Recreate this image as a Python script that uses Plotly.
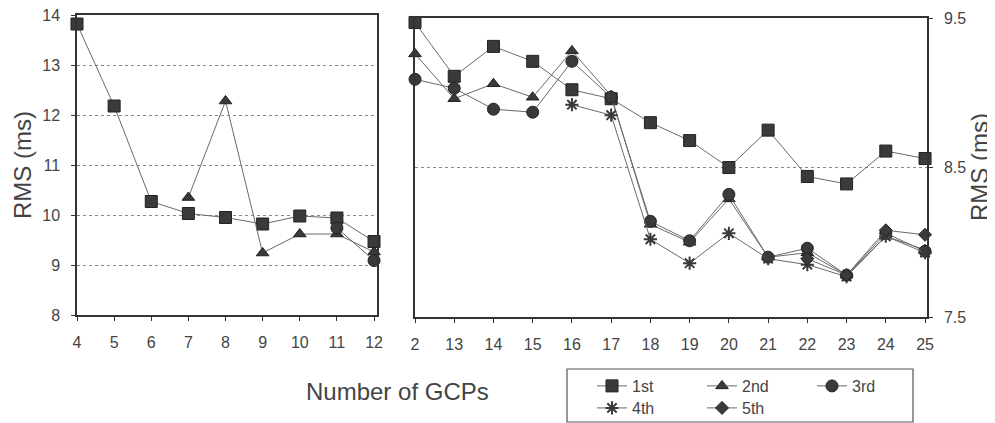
import plotly.graph_objects as go

# ---- data ----
gcps = list(range(4, 26))
first  = [13.82, 12.18, 10.27, 10.03, 9.95, 9.82, 9.98, 9.94, 9.47, 9.11, 9.31,
          9.21, 9.02, 8.96, 8.80, 8.68, 8.50, 8.75, 8.44, 8.39, 8.61, 8.56]
second = [None, None, None, 10.35, 12.28, 9.24, 9.62, 9.62, 9.26, 8.96, 9.06,
          8.97, 9.28, 8.98, 8.12, 8.00, 8.29, 7.90, 7.93, 7.78, 8.04, 7.95]
third  = [None, None, None, None, None, None, None, 9.74, 9.09, 9.03, 8.89,
          8.87, 9.21, 8.97, 8.14, 8.01, 8.32, 7.90, 7.96, 7.78, 8.06, 7.94]
fourth = [None] * 12 + [8.92, 8.85, 8.02, 7.86, 8.06, 7.89, 7.85, 7.77, 8.04, 7.93]
fifth  = [None] * 18 + [7.89, 7.78, 8.08, 8.05]

series_names = ["1st", "2nd", "3rd", "4th", "5th"]
series_vals = [first, second, third, fourth, fifth]
symbols = ["square", "triangle-up", "circle", "asterisk-open", "diamond"]
sizes = [12, 11, 12, 11, 10]
legend_of = ["legend", "legend", "legend", "legend2", "legend2"]

left_tickvals = list(range(4, 13))
left_ticktext = [str(v) for v in left_tickvals]
right_tickvals = list(range(12, 26))
right_ticktext = ["2"] + [str(v) for v in range(13, 26)]

left_yticks = [8, 9, 10, 11, 12, 13, 14]
right_yticks = [7.5, 8.5, 9.5]

# page is offset by the default 8px body margin
W, H, OFF = 987, 415, 8
def fx(px):
    return (px - OFF) / W
def fy(py):
    return (H - (py - OFF)) / H

MARK = "#3a3a3a"
LINE = "#6a6a6a"
TXT = "#444444"
FONT = "Liberation Sans, Arial"

fig = go.Figure()

for i, (name, vals) in enumerate(zip(series_names, series_vals)):
    sym = symbols[i]
    is_open = sym.endswith("open")
    mk = dict(symbol=sym, size=sizes[i], color=MARK,
              line=dict(color="#222222" if not is_open else MARK, width=2 if is_open else 1))
    xl = [x for x, v in zip(gcps, vals) if x <= 12 and v is not None]
    yl = [v for x, v in zip(gcps, vals) if x <= 12 and v is not None]
    fig.add_trace(go.Scatter(x=xl, y=yl, mode="lines+markers", name=name,
                             line=dict(color=LINE, width=1), marker=mk,
                             xaxis="x", yaxis="y", showlegend=False, cliponaxis=False))
    xr = [x for x, v in zip(gcps, vals) if x >= 12 and v is not None]
    yr = [v for x, v in zip(gcps, vals) if x >= 12 and v is not None]
    fig.add_trace(go.Scatter(x=xr, y=yr, mode="lines+markers", name=name,
                             line=dict(color=LINE, width=1), marker=mk,
                             xaxis="x2", yaxis="y2", showlegend=True, cliponaxis=False,
                             legend=legend_of[i]))

axis_common = dict(showline=True, linecolor="#333333", linewidth=1.5, mirror=True,
                   ticks="outside", ticklen=4, tickcolor="#333333",
                   tickfont=dict(family=FONT, size=16, color=TXT),
                   ticklabeloverflow="allow",
                   zeroline=False, automargin=False)

leg_common = dict(orientation="h", xanchor="left", yanchor="top", borderwidth=0,
                  bgcolor="rgba(0,0,0,0)", font=dict(family=FONT, size=16, color=TXT),
                  entrywidth=65, entrywidthmode="pixels", tracegroupgap=0)

fig.update_layout(
    width=W, height=H,
    template="none",
    paper_bgcolor="white", plot_bgcolor="white",
    margin=dict(l=0, r=0, t=0, b=0, autoexpand=False),
    font=dict(family=FONT, color=TXT),
    xaxis=dict(domain=[fx(77), fx(377)], range=[4, 12.08], tickvals=left_tickvals,
               ticktext=left_ticktext, showgrid=False, ticklabelstandoff=8,
               anchor="y", **axis_common),
    yaxis=dict(domain=[fy(315), fy(15)], range=[8, 14], tickvals=left_yticks,
               showgrid=True, gridcolor="#888888", griddash="dot", gridwidth=1,
               ticklabelstandoff=8, anchor="x", **axis_common),
    xaxis2=dict(domain=[fx(415), fx(927)], range=[12, 25.05], tickvals=right_tickvals,
                ticktext=right_ticktext, showgrid=False, ticklabelstandoff=8,
                anchor="y2", **axis_common),
    yaxis2=dict(domain=[fy(317), fy(18)], range=[7.5, 9.5], tickvals=right_yticks,
                side="right", showgrid=True, gridcolor="#888888", griddash="dot", gridwidth=1,
                ticklabelstandoff=8, anchor="x2", **axis_common),
    legend=dict(x=fx(592), y=fy(369), **leg_common),
    legend2=dict(x=fx(592), y=fy(391), **leg_common),
    shapes=[dict(type="rect", xref="paper", yref="paper",
                 x0=fx(567), x1=fx(913), y0=fy(422), y1=fy(369),
                 line=dict(color="#555555", width=1.2), fillcolor="rgba(0,0,0,0)")],
    annotations=[
        dict(text="RMS (ms)", x=fx(22), y=fy(165), xref="paper", yref="paper",
             xanchor="center", yanchor="middle",
             textangle=-90, showarrow=False, font=dict(size=24, color=TXT)),
        dict(text="RMS (ms)", x=fx(980), y=fy(167), xref="paper", yref="paper",
             xanchor="center", yanchor="middle",
             textangle=-90, showarrow=False, font=dict(size=24, color=TXT)),
        dict(text="Number of GCPs", x=fx(397), y=fy(391), xref="paper", yref="paper",
             xanchor="center", yanchor="middle",
             showarrow=False, font=dict(size=24, color=TXT)),
    ],
)

fig.write_html("out.html")
